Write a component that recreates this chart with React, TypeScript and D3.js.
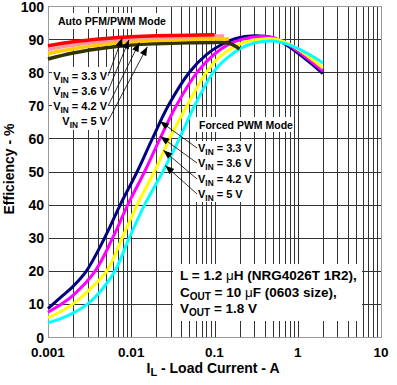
import React from 'react'
import * as d3 from 'd3'

const W = 397
const H = 385

// Auto PFM/PWM mode curves, [load current (A), efficiency (%)]
const pfmVin33 = [[0.001, 88], [0.002, 89.2], [0.005, 90.2], [0.01, 90.7], [0.02, 91], [0.05, 91.2], [0.1, 91.3]]
const pfmVin36 = [[0.001, 86.8], [0.002, 88.2], [0.005, 89.4], [0.01, 90], [0.02, 90.4], [0.05, 90.7], [0.1, 90.9], [0.13, 90.9]]
const pfmVin42 = [[0.001, 85.6], [0.002, 87.1], [0.005, 88.5], [0.01, 89.2], [0.02, 89.6], [0.05, 89.9], [0.1, 90], [0.15, 90]]
const pfmVin50 = [[0.001, 84], [0.002, 85.8], [0.005, 87.4], [0.01, 88.2], [0.02, 88.6], [0.05, 88.9], [0.1, 89], [0.13, 89], [0.16, 88.5], [0.2, 87]]

// Forced PWM mode curves
const pwmVin33 = [[0.001, 8.6], [0.0015, 12.5], [0.002, 15.3], [0.0029, 20], [0.0048, 30], [0.0074, 40], [0.0118, 50], [0.018, 60], [0.028, 70], [0.05, 80], [0.08, 85.3], [0.12, 88.3], [0.18, 90.2], [0.3, 91], [0.5, 90.4], [0.7, 88.5], [1, 85.8], [1.5, 82.3], [2, 79.6]]
const pwmVin36 = [[0.001, 7.5], [0.0015, 10.2], [0.002, 12.6], [0.0037, 20], [0.006, 30], [0.0091, 40], [0.0145, 50], [0.0222, 60], [0.035, 70], [0.062, 80], [0.1, 85.5], [0.15, 88.5], [0.22, 90], [0.35, 90.8], [0.5, 90.5], [0.7, 88.9], [1, 86.4], [1.5, 83], [2, 80.4]]
const pwmVin42 = [[0.001, 5.8], [0.0015, 8], [0.002, 10], [0.003, 13.8], [0.0051, 20], [0.0078, 30], [0.0118, 40], [0.019, 50], [0.029, 60], [0.047, 70], [0.08, 80], [0.12, 85], [0.2, 88.5], [0.3, 89.7], [0.5, 90.1], [0.7, 89.1], [1, 87], [1.5, 83.8], [2, 81.3]]
const pwmVin50 = [[0.001, 4.3], [0.0015, 5.8], [0.002, 7.2], [0.003, 10], [0.0045, 14.5], [0.0064, 20], [0.0095, 30], [0.0145, 40], [0.024, 50], [0.038, 60], [0.058, 70], [0.1, 80.5], [0.15, 84.8], [0.2, 87], [0.3, 88.8], [0.5, 89.4], [0.7, 88.7], [1, 87.2], [1.5, 84.8], [2, 82.8]]

const vinLabels = ['3.3 V', '3.6 V', '4.2 V', '5 V']
const pfmColors = ['#ff0000', '#ff99aa', '#ffcc00', '#333300']
const pwmColors = ['#000080', '#ff00ff', '#ffff00', '#00ffff']

// where the label pointers touch the curves
const pfmPointers = [[0.0078, 90.4], [0.0094, 89.8], [0.0125, 88.9], [0.0156, 87.7]]
const pwmPointers = [[0.0221, 65.2], [0.0224, 60.6], [0.0243, 56.4], [0.0256, 51.8]]

const xTicks = [0.001, 0.01, 0.1, 1, 10]
const xTickLabels = ['0.001', '0.01', '0.1', '1', '10']

const font = '"Liberation Sans", Arial, sans-serif'

function arrowHead(tip, from) {
  const dx = from[0] - tip[0]
  const dy = from[1] - tip[1]
  const len = Math.sqrt(dx * dx + dy * dy)
  const ux = dx / len, uy = dy / len
  const bx = tip[0] + ux * 9, by = tip[1] + uy * 9
  return [
    [tip[0], tip[1]],
    [bx - uy * 3.5, by + ux * 3.5],
    [bx + uy * 3.5, by - ux * 3.5]
  ].map(p => p.join(',')).join(' ')
}

function Vin({ value, size }) {
  return (
    <>
      V<tspan fontSize={size * 0.75} dy={3}>IN</tspan><tspan dy={-3}> = {value}</tspan>
    </>
  )
}

export default function App() {
  const x = d3.scaleLog().domain([0.001, 10]).range([48, 381])
  const y = d3.scaleLinear().domain([0, 100]).range([337, 6])
  const line = d3.line().x(d => x(d[0])).y(d => y(d[1])).curve(d3.curveCatmullRom.alpha(0.5))

  const vLines = x.ticks()
  const hLines = y.ticks(10)
  const px = v => Math.round(x(v)) + 0.5
  const py = v => Math.round(y(v)) + 0.5

  const pfm = [pfmVin50, pfmVin42, pfmVin36, pfmVin33]
  const pfmC = [pfmColors[3], pfmColors[2], pfmColors[1], pfmColors[0]]
  const pwm = [pwmVin33, pwmVin36, pwmVin42, pwmVin50]

  const pfmBase = [80, 95, 110, 125]
  const pwmBase = [152, 167, 183, 198]

  return (
    <svg width={W} height={H} style={{ position: 'absolute', left: 0, top: 0, background: '#fff' }}
      fontFamily={font} fontWeight="bold">
      {/* grid */}
      {vLines.map((v, i) => (
        <line key={'v' + i} x1={px(v)} x2={px(v)} y1={y(100)} y2={y(0)} stroke="#333" strokeWidth={1} />
      ))}
      {hLines.map((v, i) => (
        <line key={'h' + i} x1={x(0.001)} x2={x(10)} y1={py(v)} y2={py(v)} stroke="#333" strokeWidth={1} />
      ))}
      <rect x={px(0.001)} y={py(100)} width={px(10) - px(0.001)} height={py(0) - py(100)}
        fill="none" stroke="#999" strokeWidth={1} />

      {/* label backgrounds */}
      <rect x={55} y={13} width={112} height={16} fill="#fff" />
      <rect x={52} y={67} width={56} height={63} fill="#fff" />
      <rect x={196} y={117} width={97} height={15} fill="#fff" />
      <rect x={196} y={141} width={54} height={61} fill="#fff" />
      <rect x={173} y={264} width={189} height={57} fill="#fff" />

      {/* curves */}
      {pwm.map((s, i) => (
        <path key={'pwm' + i} d={line(s)} fill="none" stroke={pwmColors[i]} strokeWidth={3} />
      ))}
      {pfm.map((s, i) => (
        <path key={'pfm' + i} d={line(s)} fill="none" stroke={pfmC[i]} strokeWidth={3.5} />
      ))}

      {/* axis ticks */}
      {hLines.map((v, i) => (
        <text key={'yt' + i} x={44} y={y(v) + 0.5} dy="0.36em" textAnchor="end" fontSize={14}>{v}</text>
      ))}
      {xTicks.map((v, i) => (
        <text key={'xt' + i} x={x(v)} y={357} textAnchor="middle" fontSize={13.5}>{xTickLabels[i]}</text>
      ))}
      <text transform="translate(14,169) rotate(-90)" textAnchor="middle" fontSize={14}>Efficiency - %</text>
      <text x={213} y={373} textAnchor="middle" fontSize={14}>
        I<tspan fontSize={11} dy={3}>L</tspan><tspan dy={-3}> - Load Current - A</tspan>
      </text>

      {/* annotations */}
      <text x={58} y={25} fontSize={10.5}>Auto PFM/PWM Mode</text>
      <text x={199} y={129} fontSize={10.5}>Forced PWM Mode</text>

      {vinLabels.map((v, i) => {
        const tip = [x(pfmPointers[i][0]), y(pfmPointers[i][1])]
        const from = [108, pfmBase[i] - 4]
        return (
          <g key={'pfml' + i}>
            <line x1={from[0]} y1={from[1]} x2={tip[0]} y2={tip[1]} stroke="#000" strokeWidth={0.8} />
            <polygon points={arrowHead(tip, from)} fill="#000" />
            <text x={107} y={pfmBase[i]} textAnchor="end" fontSize={11}><Vin value={v} size={11} /></text>
          </g>
        )
      })}
      {vinLabels.map((v, i) => {
        const tip = [x(pwmPointers[i][0]), y(pwmPointers[i][1])]
        const from = [197, pwmBase[i] - 4]
        return (
          <g key={'pwml' + i}>
            <line x1={from[0]} y1={from[1]} x2={tip[0]} y2={tip[1]} stroke="#000" strokeWidth={0.8} />
            <polygon points={arrowHead(tip, from)} fill="#000" />
            <text x={198} y={pwmBase[i]} fontSize={11}><Vin value={v} size={11} /></text>
          </g>
        )
      })}

      <g fontSize={13.5}>
        <text x={180} y={280}>L = 1.2 <tspan fontWeight="normal">μ</tspan>H (NRG4026T 1R2),</text>
        <text x={180} y={297}>C<tspan fontSize={10} dy={3}>OUT</tspan><tspan dy={-3}> = 10 </tspan><tspan fontWeight="normal">μ</tspan>F (0603 size),</text>
        <text x={180} y={313}>V<tspan fontSize={10} dy={3}>OUT</tspan><tspan dy={-3}> = 1.8 V</tspan></text>
      </g>
    </svg>
  )
}
